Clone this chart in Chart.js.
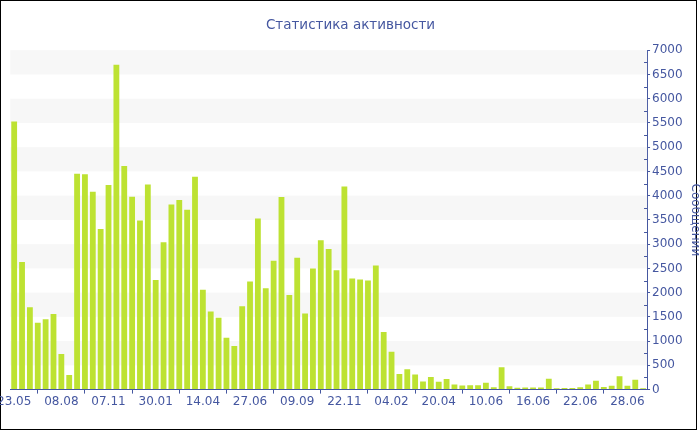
<!DOCTYPE html>
<html>
<head>
<meta charset="utf-8">
<script src="https://cdn.jsdelivr.net/npm/chart.js@4.4.0/dist/chart.umd.min.js"></script>
<style>
  body { margin: 0; background: #fff; overflow: hidden; }
  #wrap { position: relative; width: 700px; height: 430px; overflow: hidden; }
  #frame { position: absolute; left: 0; top: 0; width: 695px; height: 428px; border: 1px solid #000; }
  #chart-activity { position: absolute; left: -4px; top: 0; z-index: 1; }
</style>
</head>
<body>
<div id="wrap">
  <div id="frame"></div>
  <canvas id="chart-activity" width="704" height="430"></canvas>
</div>
<script>
// tick labels shown every 6th bar
const tickLabels = ['23.05', '08.08', '07.11', '30.01', '14.04', '27.06', '09.09',
  '22.11', '04.02', '20.04', '10.06', '16.06', '22.06', '28.06']

// messages per bar
const messages = [
  5530, 2630, 1700, 1380, 1450, 1560, 735, 300, 4450, 4440,
  4080, 3310, 4220, 6700, 4610, 3980, 3490, 4230, 2260, 3040,
  3820, 3910, 3710, 4390, 2060, 1610, 1480, 1070, 900, 1720,
  2230, 3530, 2090, 2660, 3970, 1950, 2720, 1570, 2500, 3080,
  2900, 2460, 4190, 2290, 2270, 2250, 2560, 1190, 780, 320,
  420, 310, 165, 260, 160, 220, 105, 85, 90, 90,
  140, 50, 460, 70, 40, 45, 45, 45, 225, 30,
  35, 35, 50, 105, 180, 55, 80, 275, 80, 205, 30,
]

const categories = messages.map((_, i) => (i % 6 === 0 ? tickLabels[i / 6] : ''))

const blue = '#4557a0'
const font = 'DejaVu Sans'

// alternating grey bands every 500
const bandsPlugin = {
  id: 'bands',
  beforeDatasetsDraw(chart) {
    const { ctx, chartArea, scales } = chart
    const y = scales.y
    ctx.save()
    ctx.fillStyle = '#f7f7f7'
    for (let v = 500; v < 7000; v += 1000) {
      const top = y.getPixelForValue(v + 500)
      const bottom = y.getPixelForValue(v)
      ctx.fillRect(chartArea.left, top, chartArea.right - chartArea.left, bottom - top)
    }
    ctx.restore()
  },
  afterDraw(chart) {
    // minor ticks on the left of the value axis
    const { ctx, chartArea, scales } = chart
    const y = scales.y
    ctx.save()
    ctx.strokeStyle = blue
    ctx.lineWidth = 1
    for (let v = 250; v < 7000; v += 500) {
      const py = Math.round(y.getPixelForValue(v)) + 0.5
      ctx.beginPath()
      ctx.moveTo(chartArea.right - 3, py)
      ctx.lineTo(chartArea.right, py)
      ctx.stroke()
    }
    ctx.restore()
  },
}

const ctx = document.getElementById('chart-activity')

new Chart(ctx, {
  type: 'bar',
  data: {
    labels: categories,
    datasets: [
      {
        label: 'Сообщений',
        data: messages,
        backgroundColor: '#bde232',
        borderWidth: 0,
        barPercentage: 0.74,
        categoryPercentage: 1,
      },
    ],
  },
  options: {
    responsive: false,
    animation: false,
    layout: {
      padding: { left: 0, right: -5, top: 0, bottom: 20 },
    },
    plugins: {
      legend: { display: false },
      tooltip: { enabled: false },
      title: {
        display: true,
        text: 'Статистика активности',
        color: blue,
        font: { family: font, size: 13.5, weight: 'normal' },
        padding: { top: 17, bottom: 17 },
      },
    },
    scales: {
      x: {
        offset: true,
        border: { display: true, color: blue, width: 1 },
        grid: {
          display: true,
          drawOnChartArea: false,
          drawTicks: true,
          tickLength: 4,
          tickColor: blue,
        },
        ticks: {
          autoSkip: false,
          maxRotation: 0,
          color: blue,
          padding: 1,
          font: { family: font, size: 12 },
          callback: (v, i) => categories[i] || null,
        },
      },
      y: {
        position: 'right',
        min: 0,
        max: 7000,
        border: { display: true, color: blue, width: 1 },
        grid: {
          drawOnChartArea: false,
          drawTicks: true,
          tickLength: 3,
          tickColor: blue,
        },
        ticks: {
          stepSize: 500,
          color: blue,
          padding: 2,
          font: { family: font, size: 12 },
          callback: (v) => String(v),
        },
        title: {
          display: true,
          text: 'Сообщений',
          color: blue,
          font: { family: font, size: 12 },
          padding: 3,
        },
      },
    },
  },
  plugins: [bandsPlugin],
})
</script>
</body>
</html>
